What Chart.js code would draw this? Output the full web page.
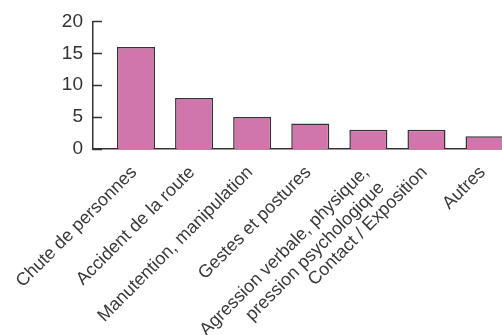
<!DOCTYPE html>
<html lang="en">
<head>
    <title>Accidents par type</title>
    <script src="https://cdn.jsdelivr.net/npm/chart.js"></script>
    <style>
        html, body { margin: 0; padding: 0; background: #fff; overflow: hidden; }
        #wrap { width: 502px; height: 335px; }
    </style>
</head>
<body>
    <div id="wrap"><canvas id="accChart"></canvas></div>
    <script>
        const categories = [
            'Chute de personnes',
            'Accident de la route',
            'Manutention, manipulation',
            'Gestes et postures',
            ['Agression verbale, physique,', 'pression psychologique'],
            'Contact / Exposition',
            'Autres'
        ];
        const counts = [16, 8, 5, 4, 3, 3, 2];
        const yTicks = [0, 5, 10, 15, 20];

        // small ticks pointing into the plot, like the original
        const innerTicks = {
            id: 'innerTicks',
            afterDraw(chart) {
                const ctx = chart.ctx;
                const y = chart.scales.y;
                const left = chart.chartArea.left;
                ctx.save();
                ctx.strokeStyle = '#333';
                ctx.lineWidth = 1.5;
                yTicks.forEach(t => {
                    const py = Math.round(y.getPixelForValue(t)) + 0.5;
                    ctx.beginPath();
                    ctx.moveTo(left, py);
                    ctx.lineTo(left + 9, py);
                    ctx.stroke();
                });
                ctx.restore();
            }
        };

        new Chart(document.getElementById('accChart'), {
            type: 'bar',
            data: {
                datasets: [{
                    data: counts.map((v, i) => ({x: i, y: v})),
                    backgroundColor: '#D176AC',
                    borderColor: '#333',
                    borderWidth: 1.5,
                    categoryPercentage: 1,
                    barPercentage: 0.655
                }]
            },
            options: {
                responsive: true,
                maintainAspectRatio: false,
                animation: false,
                layout: { padding: { top: 20, right: 0, left: 0, bottom: 0 } },
                plugins: { legend: { display: false }, tooltip: { enabled: false } },
                scales: {
                    x: {
                        type: 'linear',
                        offset: false,
                        min: -0.74,
                        max: 6.3,
                        afterBuildTicks: s => { s.ticks = categories.map((c, i) => ({value: i})); },
                        afterFit: s => { s.height = 186; s.paddingLeft = 0; s.paddingRight = 0; },
                        grid: { display: false, drawTicks: false },
                        border: { color: '#333', width: 1.5 },
                        ticks: {
                            callback: v => categories[v],
                            minRotation: 45,
                            maxRotation: 45,
                            autoSkip: false,
                            padding: 13,
                            labelOffset: -2,
                            color: '#3a3a3a',
                            font: { family: 'Liberation Sans', size: 18 }
                        }
                    },
                    y: {
                        min: 0,
                        max: 20,
                        afterBuildTicks: s => { s.ticks = yTicks.map(v => ({value: v})); },
                        afterFit: s => { s.width = 93; },
                        grid: { display: false, drawTicks: false },
                        border: { color: '#333', width: 1.5 },
                        ticks: {
                            padding: 10,
                            color: '#333',
                            font: { family: 'Liberation Sans', size: 19 }
                        }
                    }
                }
            },
            plugins: [innerTicks]
        });
    </script>
</body>
</html>
